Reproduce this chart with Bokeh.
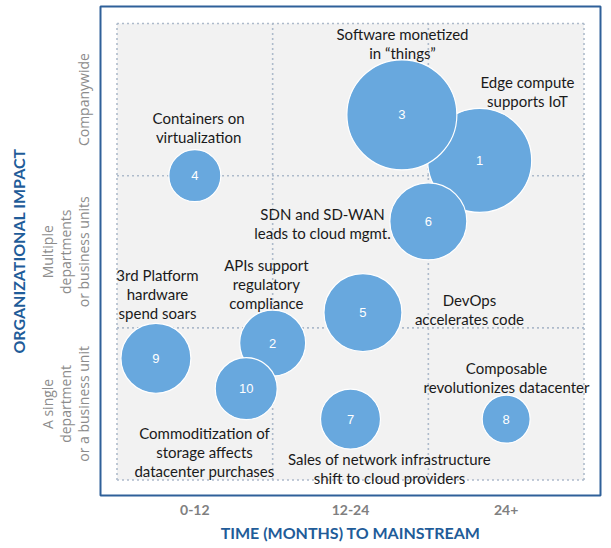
import numpy as np
from bokeh.plotting import figure
from bokeh.models import ColumnDataSource, FixedTicker, Range1d, LinearAxis
from bokeh.core.properties import value
from bokeh.embed import file_html
from bokeh.resources import INLINE

# ---- data ----
time_categories = ["0-12", "12-24", "24+"]
impact_categories = ["A single\ndepartment\nor a business unit",
                     "Multiple\ndepartments\nor business units",
                     "Companywide"]
category_centers = [0.5, 1.5, 2.5]
quadrant_bounds = [0, 1, 2, 3]

bubble_ids = ["1", "2", "3", "4", "5", "6", "7", "8", "9", "10"]
bubble_time = [2.33, 1.0, 1.83, 0.5, 1.58, 2.0, 1.5, 2.5, 0.25, 0.83]
bubble_impact = [2.1, 0.9, 2.4, 2.0, 1.1, 1.7, 0.4, 0.4, 0.8, 0.6]
bubble_size = [104, 66, 110, 52, 78, 77, 60, 48, 70, 62]

label_text = [
    "Software monetized\nin \u201cthings\u201d",
    "Edge compute\nsupports IoT",
    "Containers on\nvirtualization",
    "SDN and SD-WAN\nleads to cloud mgmt.",
    "3rd Platform\nhardware\nspend soars",
    "APIs support\nregulatory\ncompliance",
    "DevOps\naccelerates code",
    "Composable\nrevolutionizes datacenter",
    "Commoditization of\nstorage affects\ndatacenter purchases",
    "Sales of network infrastructure\nshift to cloud providers",
]
label_time = [1.834, 2.637, 0.524, 1.320, 0.260, 0.960, 2.264, 2.502, 0.562, 1.750]
label_impact = [2.934, 2.619, 2.382, 1.751, 1.350, 1.416, 1.186, 0.739, 0.312, 0.141]

x_title = "TIME (MONTHS) TO MAINSTREAM"
y_title = "ORGANIZATIONAL IMPACT"

# ---- figure ----
p = figure(width=611, height=548,
           x_range=Range1d(-0.106, 3.106), y_range=Range1d(-0.102, 3.112),
           output_backend="svg", toolbar_location=None,
           min_border_left=100, min_border_right=11,
           min_border_top=6, min_border_bottom=53)
p.grid.visible = False
p.background_fill_color = "white"
p.border_fill_color = "white"
p.outline_line_color = "#2F6099"
p.outline_line_width = 2

# grey quadrant area
p.quad(left=[quadrant_bounds[0]], right=[quadrant_bounds[-1]],
       bottom=[quadrant_bounds[0]], top=[quadrant_bounds[-1]],
       fill_color="#F2F2F2", line_color=None)

# dotted grid
lo, hi = quadrant_bounds[0], quadrant_bounds[-1]
n = len(quadrant_bounds)
p.segment(x0=quadrant_bounds, y0=[lo] * n, x1=quadrant_bounds, y1=[hi] * n,
          line_color="#AEBBCB", line_width=1.6, line_dash="2 3")
p.segment(x0=[lo] * n, y0=quadrant_bounds, x1=[hi] * n, y1=quadrant_bounds,
          line_color="#AEBBCB", line_width=1.6, line_dash="2 3")

# bubbles
bsrc = ColumnDataSource(dict(x=bubble_time, y=bubble_impact,
                             size=bubble_size, id=bubble_ids))
p.scatter("x", "y", size="size", source=bsrc, fill_color="#68A8DE",
          line_color="white", line_width=1.2)
p.text("x", "y", text="id", source=bsrc, text_color="white",
       text_font=value("Liberation Sans"), text_font_size="13px",
       text_align="center", text_baseline="middle")

# annotation labels (one row per line)
lx, ly, lt, loff = [], [], [], []
for t, x, y in zip(label_text, label_time, label_impact):
    for i, line in enumerate(t.split("\n")):
        lx.append(x); ly.append(y); lt.append(line); loff.append(i * 19)
lsrc = ColumnDataSource(dict(x=lx, y=ly, t=lt, off=loff))
p.text("x", "y", text="t", y_offset="off", source=lsrc, text_color="#1A1A1A",
       text_font=value("Lato"), text_font_size="15px",
       text_align="center", text_baseline="middle")

# x axis
xa = p.xaxis[0]
xa.ticker = FixedTicker(ticks=category_centers)
xa.major_label_overrides = {c: t for c, t in zip(category_centers, time_categories)}
xa.axis_line_color = None
xa.major_tick_line_color = None
xa.minor_tick_line_color = None
xa.major_tick_out = 0
xa.major_tick_in = 0
xa.major_label_standoff = 9
xa.major_label_text_font = "Lato"
xa.major_label_text_font_style = "bold"
xa.major_label_text_font_size = "14px"
xa.major_label_text_color = "#808080"
xa.axis_label = x_title
xa.axis_label_text_font = "Lato"
xa.axis_label_text_font_style = "bold"
xa.axis_label_text_font_size = "16px"
xa.axis_label_text_color = "#1F5C99"
xa.axis_label_standoff = 5

# y axis: one stacked axis per text line of the category labels
split_labels = [t.split("\n") for t in impact_categories]
max_lines = max(len(s) for s in split_labels)
y_axes = [p.yaxis[0]]
for _ in range(max_lines - 1):
    ax = LinearAxis()
    p.add_layout(ax, "left")
    y_axes.append(ax)

for level, ax in enumerate(y_axes):  # level 0 = nearest to the plot (last line)
    ticks, over = [], {}
    for c, lines in zip(category_centers, split_labels):
        idx = len(lines) - 1 - level
        if idx >= 0:
            ticks.append(c)
            over[c] = lines[idx]
    ax.ticker = FixedTicker(ticks=ticks)
    ax.major_label_overrides = over
    ax.major_label_orientation = "vertical"
    ax.axis_line_color = None
    ax.major_tick_line_color = None
    ax.minor_tick_line_color = None
    ax.major_tick_out = 0
    ax.major_tick_in = 0
    ax.major_label_standoff = 7 if level == 0 else -4
    ax.major_label_text_font = "Open Sans"
    ax.major_label_text_font_size = "14px"
    ax.major_label_text_color = "#8C8C8C"

outer = y_axes[-1]
outer.axis_label = y_title
outer.axis_label_text_font = "Lato"
outer.axis_label_text_font_style = "bold"
outer.axis_label_text_font_size = "16px"
outer.axis_label_text_color = "#1F5C99"
outer.axis_label_standoff = 8

open("out.html", "w").write(file_html(p, INLINE))
